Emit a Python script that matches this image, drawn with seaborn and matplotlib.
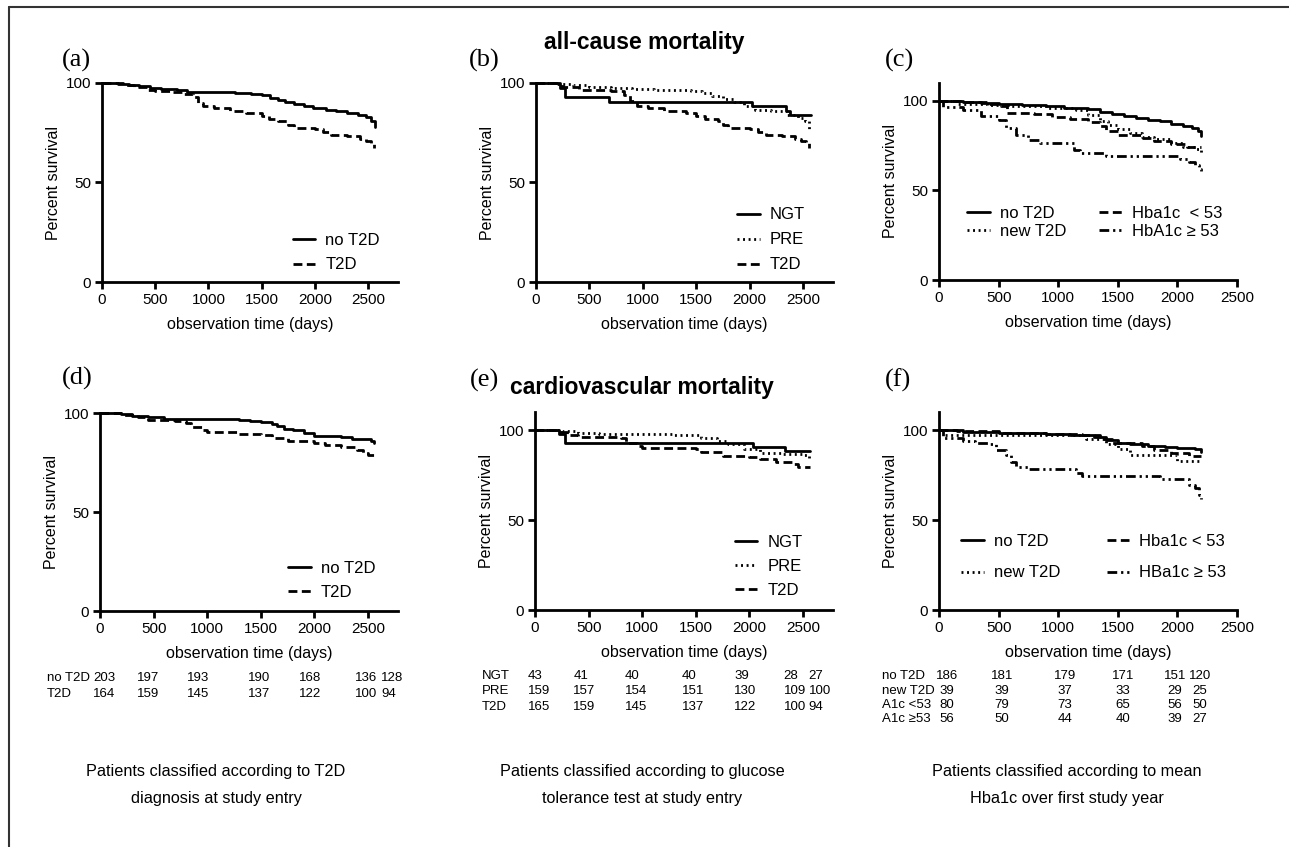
import numpy as np
import pandas as pd
import matplotlib.pyplot as plt
import seaborn as sns
from matplotlib.lines import Line2D
from matplotlib.transforms import blended_transform_factory

# ---- (a) all-cause mortality, T2D at study entry
a_no_t = [0, 150, 250, 350, 450, 550, 700, 800, 1250, 1400, 1500, 1580, 1650, 1720, 1800, 1900, 1980, 2100, 2200, 2300, 2400, 2480, 2530, 2560]
a_no_s = [100, 99.5, 99, 98.3, 97.6, 97.2, 96.5, 95.5, 95.2, 94.5, 93.8, 92.5, 91.5, 90.5, 89.5, 88.5, 87.2, 86.5, 86, 85, 84, 82.8, 81, 78]
a_t2d_t = [0, 200, 300, 420, 500, 650, 750, 850, 900, 950, 1050, 1200, 1350, 1500, 1570, 1650, 1750, 1800, 2000, 2080, 2150, 2300, 2420, 2480, 2530, 2555]
a_t2d_s = [100, 99, 98, 96.5, 96, 95.5, 94.5, 93, 90, 88.5, 87.5, 86, 85, 83.5, 82, 81, 79, 77.5, 77, 75.5, 74, 73.5, 72, 71, 70, 67.5]

# ---- (b) all-cause mortality, glucose tolerance test
b_ngt_t = [0, 220, 270, 680, 2020, 2340, 2380, 2570]
b_ngt_s = [100, 97.7, 93.0, 90.7, 88.4, 86.0, 83.7, 83.7]
b_pre_t = [0, 200, 350, 500, 700, 900, 1100, 1450, 1550, 1650, 1750, 1850, 1950, 2050, 2200, 2350, 2450, 2520, 2560]
b_pre_s = [100, 99.4, 98.8, 98, 97.5, 96.8, 96.3, 95.8, 94.8, 93.5, 92, 90.5, 88.5, 86.5, 85.8, 84, 82.5, 81, 77]
b_t2d_t = [0, 200, 250, 400, 700, 820, 880, 950, 1050, 1200, 1400, 1500, 1580, 1700, 1750, 1800, 2000, 2080, 2150, 2300, 2420, 2480, 2530, 2555]
b_t2d_s = [100, 98.5, 98, 96.5, 95.8, 94, 91, 88.5, 87.5, 86, 85, 83.5, 82, 81, 79, 77.5, 77, 75.5, 74, 73.5, 72, 71, 70, 67.5]

# ---- (c) all-cause mortality, mean Hba1c first year
c_no_t = [0, 200, 350, 500, 700, 900, 1050, 1250, 1350, 1450, 1550, 1650, 1750, 1850, 1950, 2050, 2120, 2170, 2200]
c_no_s = [100, 99.4, 98.8, 98.1, 97.5, 97, 96.3, 95.4, 94, 92.8, 91.8, 90.5, 89.5, 88.6, 87.3, 86, 84.8, 83, 80.2]
c_new_t = [0, 150, 400, 600, 900, 1150, 1250, 1350, 1420, 1500, 1600, 1700, 1800, 1950, 2050, 2150, 2200]
c_new_s = [100, 98.5, 97.5, 96.9, 96, 95, 92.2, 89, 86.7, 84.5, 82, 80, 78.5, 76.5, 74.5, 73, 70.6]
c_lo_t = [0, 200, 400, 520, 570, 800, 950, 1100, 1250, 1350, 1400, 1500, 1700, 1800, 1950, 2080, 2200]
c_lo_s = [100, 99.2, 98.3, 97, 93.1, 92.5, 91, 90, 88.5, 86, 83, 81, 79.5, 77.4, 76, 74.3, 74.3]
c_hi_t = [0, 30, 200, 350, 500, 560, 650, 750, 850, 1130, 1180, 1350, 1400, 1950, 2020, 2100, 2150, 2180, 2200]
c_hi_s = [100, 96.5, 95, 91.3, 89.4, 84.8, 81.1, 78.3, 76.5, 72.8, 70.9, 70.9, 69, 69, 67.6, 66, 64.4, 62, 59.8]

# ---- (d) cardiovascular mortality, T2D at study entry
d_no_t = [0, 200, 300, 450, 600, 1300, 1400, 1500, 1600, 1650, 1720, 1800, 1900, 2000, 2250, 2350, 2530, 2560]
d_no_s = [100, 99.5, 98.5, 97.8, 97.1, 96.6, 96, 95.3, 94.5, 93.2, 92, 91.2, 90, 88.6, 88, 86.8, 86, 84.8]
d_t2d_t = [0, 200, 350, 450, 700, 800, 850, 950, 1000, 1300, 1500, 1600, 1750, 2000, 2100, 2250, 2400, 2450, 2500, 2555]
d_t2d_s = [100, 99, 97.8, 96.6, 95.8, 95, 93, 91.6, 90.2, 89.6, 88.7, 87.3, 85.7, 85, 84, 83, 81.3, 79.8, 79, 77.2]

# ---- (e) cardiovascular mortality, glucose tolerance test
e_ngt_t = [0, 220, 280, 2030, 2330, 2570]
e_ngt_s = [100, 97.6, 92.8, 90.6, 88.3, 88.3]
e_pre_t = [0, 250, 400, 600, 1300, 1400, 1550, 1700, 1800, 1950, 2100, 2300, 2500, 2560]
e_pre_s = [100, 99.2, 98.6, 98, 97.5, 97, 95.5, 93.8, 92, 89.5, 87.5, 86.5, 86, 84.3]
e_t2d_t = [0, 200, 300, 400, 800, 850, 950, 1000, 1500, 1550, 1750, 2000, 2100, 2250, 2400, 2450, 2570]
e_t2d_s = [100, 99, 97.5, 95.9, 95.5, 93, 91.1, 90.2, 89.4, 88, 85.6, 85, 84, 82.4, 81, 79.6, 79.6]

# ---- (f) cardiovascular mortality, mean Hba1c first year
f_no_t = [0, 200, 500, 900, 1100, 1300, 1400, 1500, 1600, 1750, 1900, 2000, 2150, 2200]
f_no_s = [100, 99, 98.4, 98, 97.2, 96, 94.4, 93, 92, 91.1, 90.4, 89.8, 89.5, 88]
f_new_t = [0, 50, 1200, 1230, 1400, 1500, 1600, 1950, 2000, 2200]
f_new_s = [100, 97.5, 97, 95, 92, 89.3, 86.1, 86.1, 83, 83]
f_lo_t = [0, 150, 500, 900, 1200, 1350, 1450, 1700, 1800, 1950, 2100, 2200]
f_lo_s = [100, 99.2, 98.6, 98, 97, 95, 92.6, 91, 88.9, 87.5, 85.7, 85.7]
f_hi_t = [0, 30, 200, 300, 420, 480, 560, 600, 650, 750, 1100, 1150, 1200, 1800, 1850, 2000, 2100, 2150, 2180, 2200]
f_hi_s = [100, 95.4, 94, 93, 92.5, 89, 86, 82.4, 79.6, 78.1, 78.1, 76, 74.6, 74.6, 73, 72.6, 69.4, 67.6, 64, 61.5]

# ---- numbers at risk
d_risk_labels = ["no T2D", "T2D"]
d_risk = [[203, 197, 193, 190, 168, 136, 128],
          [164, 159, 145, 137, 122, 100, 94]]
e_risk_labels = ["NGT", "PRE", "T2D"]
e_risk = [[43, 41, 40, 40, 39, 28, 27],
          [159, 157, 154, 151, 130, 109, 100],
          [165, 159, 145, 137, 122, 100, 94]]
f_risk_labels = ["no T2D", "new T2D", "A1c <53", "A1c \u226553"]
f_risk = [[186, 181, 179, 171, 151, 120],
          [39, 39, 37, 33, 29, 25],
          [80, 79, 73, 65, 56, 50],
          [56, 50, 44, 40, 39, 27]]

captions = ["Patients classified according to T2D\ndiagnosis at study entry",
            "Patients classified according to glucose\ntolerance test at study entry",
            "Patients classified according to mean\nHba1c over first study year"]

sns.set_theme(style="ticks")
plt.rcParams['font.family'] = ['Liberation Sans', 'DejaVu Sans']
plt.rcParams.update({'text.color': 'black', 'axes.labelcolor': 'black',
                     'xtick.color': 'black', 'ytick.color': 'black'})

SOLID = '-'
DOT = (0, (0.7, 1.3))
DASH = (0, (3.2, 1.6))
DDOT = (0, (3.5, 1.4, 0.8, 1.4, 0.8, 1.4))
LW = 2.0

W, H = 1289, 847
fig = plt.figure(figsize=(W / 100, H / 100), dpi=100)


def px_axes(left, top, right, bottom):
    return fig.add_axes([left / W, 1 - bottom / H, (right - left) / W, (bottom - top) / H])


def km(ax, t, s, ls, label):
    df = pd.DataFrame({'t': t, 's': s})
    sns.lineplot(data=df, x='t', y='s', ax=ax, color='black', lw=LW, linestyle=ls,
                 drawstyle='steps-post', estimator=None, label=label, clip_on=False)


def style_axes(ax, xmax, ymax):
    ax.set_xlim(0, xmax)
    ax.set_ylim(0, ymax)
    ax.set_xticks([0, 500, 1000, 1500, 2000, 2500])
    ax.set_yticks([0, 50, 100])
    sns.despine(ax=ax)
    for sp in ['left', 'bottom']:
        ax.spines[sp].set_linewidth(2)
        ax.spines[sp].set_color('black')
    ax.tick_params(direction='out', length=5, width=2, labelsize=11, pad=3, colors='black')
    ax.set_xlabel('observation time (days)', fontsize=11.5, labelpad=7)
    ax.set_ylabel('Percent survival', fontsize=11.5, labelpad=3)


panels = {}
panels['a'] = px_axes(102, 83, 398, 282)
panels['b'] = px_axes(536, 83, 833, 282)
panels['c'] = px_axes(939, 83, 1237, 280)
panels['d'] = px_axes(100, 413, 398, 611)
panels['e'] = px_axes(535, 412, 833, 610)
panels['f'] = px_axes(939, 412, 1237, 610)

ax = panels['a']
km(ax, a_no_t, a_no_s, SOLID, 'no T2D')
km(ax, a_t2d_t, a_t2d_s, DASH, 'T2D')
style_axes(ax, 2780, 100)

ax = panels['b']
km(ax, b_ngt_t, b_ngt_s, SOLID, 'NGT')
km(ax, b_pre_t, b_pre_s, DOT, 'PRE')
km(ax, b_t2d_t, b_t2d_s, DASH, 'T2D')
style_axes(ax, 2780, 100)

ax = panels['c']
km(ax, c_no_t, c_no_s, SOLID, 'no T2D')
km(ax, c_new_t, c_new_s, DOT, 'new T2D')
km(ax, c_lo_t, c_lo_s, DASH, 'Hba1c  < 53')
km(ax, c_hi_t, c_hi_s, DDOT, 'HbA1c \u2265 53')
style_axes(ax, 2500, 110)

ax = panels['d']
km(ax, d_no_t, d_no_s, SOLID, 'no T2D')
km(ax, d_t2d_t, d_t2d_s, DASH, 'T2D')
style_axes(ax, 2780, 100)

ax = panels['e']
km(ax, e_ngt_t, e_ngt_s, SOLID, 'NGT')
km(ax, e_pre_t, e_pre_s, DOT, 'PRE')
km(ax, e_t2d_t, e_t2d_s, DASH, 'T2D')
style_axes(ax, 2780, 110)

ax = panels['f']
km(ax, f_no_t, f_no_s, SOLID, 'no T2D')
km(ax, f_new_t, f_new_s, DOT, 'new T2D')
km(ax, f_lo_t, f_lo_s, DASH, 'Hba1c < 53')
km(ax, f_hi_t, f_hi_s, DDOT, 'HBa1c \u2265 53')
style_axes(ax, 2500, 110)

leg_kw = dict(frameon=False, fontsize=12, borderpad=0, borderaxespad=0,
              handlelength=1.35, handletextpad=0.6, loc='upper left')
panels['a'].legend(bbox_to_anchor=(0.645, 0.245), labelspacing=0.55, **leg_kw)
panels['d'].legend(bbox_to_anchor=(0.631, 0.255), labelspacing=0.55, **leg_kw)
panels['b'].legend(bbox_to_anchor=(0.677, 0.375), labelspacing=0.6, **leg_kw)
panels['e'].legend(bbox_to_anchor=(0.671, 0.38), labelspacing=0.55, **leg_kw)
panels['c'].legend(bbox_to_anchor=(0.094, 0.375), labelspacing=0.15, ncol=2, columnspacing=2.0, **leg_kw)
panels['f'].legend(bbox_to_anchor=(0.074, 0.385), labelspacing=1.0, ncol=2, columnspacing=2.8, **leg_kw)

# panel letters
for key, (x, y) in {'a': (62, 60), 'b': (469, 60), 'c': (885, 60),
                    'd': (62, 378), 'e': (470, 380), 'f': (885, 380)}.items():
    fig.text(x / W, 1 - y / H, '(%s)' % key, fontsize=19, va='center', ha='left',
             family=['Liberation Serif', 'DejaVu Serif'])

fig.text(644 / W, 1 - 42 / H, 'all-cause mortality', fontsize=16.5, fontweight='bold',
         ha='center', va='center')
fig.text(642 / W, 1 - 387 / H, 'cardiovascular mortality', fontsize=16.5, fontweight='bold',
         ha='center', va='center')


# numbers at risk tables
def risk_table(ax, labels, rows, label_x, col_x, rows_y, ha):
    tr = blended_transform_factory(ax.transData, fig.transFigure)
    for lab, vals, ypx in zip(labels, rows, rows_y):
        y = 1 - ypx / H
        ax.text(label_x, y, lab, transform=tr, fontsize=9.5, ha='left', va='center', clip_on=False)
        for v, xd in zip(vals, col_x):
            ax.text(xd, y, str(v), transform=tr, fontsize=9.5, ha=ha, va='center', clip_on=False)


risk_table(panels['d'], d_risk_labels, d_risk, -496,
           [-63, 342, 810, 1376, 1854, 2378, 2622], [678, 694], 'left')
risk_table(panels['e'], e_risk_labels, e_risk, -498,
           [-66, 357, 836, 1371, 1859, 2319, 2554], [676, 691, 707], 'left')
risk_table(panels['f'], f_risk_labels, f_risk, -478,
           [67, 528, 1057, 1544, 1980, 2190], [676, 691, 705, 719], 'center')

for cx, cap in zip([216, 642, 1067], captions):
    fig.text(cx / W, 1 - 785 / H, cap, fontsize=11.7, ha='center', va='center', linespacing=2.0)

# frame lines of the figure
fig.add_artist(Line2D([9 / W, 9 / W], [0, 1 - 7 / H], transform=fig.transFigure, color='#333333', lw=1.5))
fig.add_artist(Line2D([9 / W, 1], [1 - 7 / H, 1 - 7 / H], transform=fig.transFigure, color='#333333', lw=1.5))

fig.savefig('out.png', dpi=100)
